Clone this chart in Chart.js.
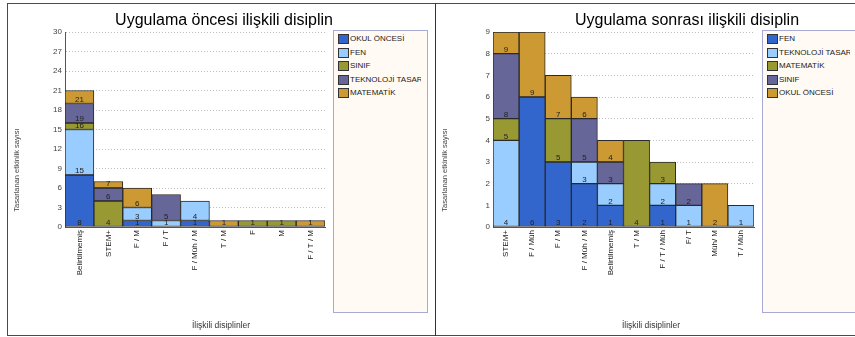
<!DOCTYPE html>
<html lang="tr">
<head>
<meta charset="utf-8">
<title>İlişkili disiplinler</title>
<script src="https://cdn.jsdelivr.net/npm/chart.js@4.4.1/dist/chart.umd.min.js"></script>
<style>
  html, body { margin: 0; padding: 0; background: #fff; }
  body { width: 855px; height: 337px; position: relative; overflow: hidden;
         font-family: "Liberation Sans", Arial, sans-serif; }
  .frame { position: absolute; left: 7px; top: 3px; width: 849px; height: 331px;
           border-left: 1px solid #4a4a4a; border-top: 1px solid #4a4a4a; border-bottom: 1px solid #4a4a4a; }
  .divider { position: absolute; left: 435px; top: 3px; width: 1px; height: 333px; background: #333; }
  .panel { position: absolute; top: 4px; }
  .legend { position: absolute; top: 30px; height: 283px; background: #fffaf4;
            border: 1px solid #a9a9d6; box-sizing: border-box; }
  .legend .item { position: absolute; left: 4px; height: 10px; display: flex; align-items: center; }
  .legend .sw { width: 9px; height: 8px; border: 1px solid #333; margin-right: 1px; flex: none; }
  .legend .tx { font-size: 8px; color: #222; white-space: nowrap; overflow: hidden; width: 71px; line-height: 10px; }
</style>
</head>
<body>
<div class="frame"></div>
<div class="divider"></div>
<div class="panel" style="left:8px"><canvas id="chartBefore" width="427" height="331"></canvas></div>
<div class="panel" style="left:436px"><canvas id="chartAfter" width="419" height="331"></canvas></div>
<div class="legend" id="legendBefore" style="left:333px;width:95px"></div>
<div class="legend" id="legendAfter" style="left:762px;width:100px"></div>

<script>
// ---- Uygulama öncesi ----
const beforeCategories = ['Belirtilmemiş', 'STEM+', 'F / M', 'F / T', 'F / Müh / M', 'T / M', 'F', 'M', 'F / T / M'];
const beforeOkulOncesi = [8, 0, 1, 0, 1, 0, 0, 0, 0];
const beforeFen        = [7, 0, 2, 1, 3, 0, 0, 0, 0];
const beforeSinif      = [1, 4, 0, 0, 0, 0, 1, 1, 0];
const beforeTeknoloji  = [3, 2, 0, 4, 0, 0, 0, 0, 0];
const beforeMatematik  = [2, 1, 3, 0, 0, 1, 0, 0, 1];
const beforeYTicks = { min: 0, max: 30, step: 3 };

// ---- Uygulama sonrası ----
const afterCategories = ['STEM+', 'F / Müh', 'F / M', 'F / Müh / M', 'Belirtilmemiş', 'T / M', 'F / T / Müh', 'F/ T', 'Müh/ M', 'T / Müh'];
const afterFen        = [0, 6, 3, 2, 1, 0, 1, 0, 0, 0];
const afterTeknoloji  = [4, 0, 0, 1, 1, 0, 1, 1, 0, 1];
const afterMatematik  = [1, 0, 2, 0, 0, 4, 1, 0, 0, 0];
const afterSinif      = [3, 0, 0, 2, 1, 0, 0, 1, 0, 0];
const afterOkulOncesi = [1, 3, 2, 1, 1, 0, 0, 0, 2, 0];
const afterYTicks = { min: 0, max: 9, step: 1 };

const FONT = '"Liberation Sans", Arial, sans-serif';
const COLORS = { darkBlue: '#3366cc', lightBlue: '#99ccff', olive: '#999933', purple: '#666699', orange: '#cc9933' };

Chart.defaults.font.family = FONT;

const beforeSeries = [
  { label: 'OKUL ÖNCESİ',         data: beforeOkulOncesi, color: COLORS.darkBlue },
  { label: 'FEN',                 data: beforeFen,        color: COLORS.lightBlue },
  { label: 'SINIF',               data: beforeSinif,      color: COLORS.olive },
  { label: 'TEKNOLOJİ TASARIMI',  data: beforeTeknoloji,  color: COLORS.purple },
  { label: 'MATEMATİK',           data: beforeMatematik,  color: COLORS.orange }
];
const afterSeries = [
  { label: 'FEN',                 data: afterFen,        color: COLORS.darkBlue },
  { label: 'TEKNOLOJİ TASARIMI',  data: afterTeknoloji,  color: COLORS.lightBlue },
  { label: 'MATEMATİK',           data: afterMatematik,  color: COLORS.olive },
  { label: 'SINIF',               data: afterSinif,      color: COLORS.purple },
  { label: 'OKUL ÖNCESİ',         data: afterOkulOncesi, color: COLORS.orange }
];

// Running stack total written just above the bottom edge of each segment
const stackTotals = {
  id: 'stackTotals',
  afterDatasetsDraw(chart) {
    const ctx = chart.ctx;
    const sets = chart.data.datasets;
    ctx.save();
    ctx.font = '8px ' + FONT;
    ctx.fillStyle = '#222';
    ctx.textAlign = 'center';
    ctx.textBaseline = 'middle';
    sets.forEach((ds, i) => {
      chart.getDatasetMeta(i).data.forEach((bar, j) => {
        if (!ds.data[j]) return;
        let total = 0;
        for (let k = 0; k <= i; k++) total += sets[k].data[j] || 0;
        ctx.fillText(String(total), bar.x, bar.base - 4);
      });
    });
    ctx.restore();
  }
};

// Chart title and axis titles at fixed spots on the panel
function panelText(title, titleX, yTitle, xTitle, xTitleX) {
  return {
    id: 'panelText',
    afterDraw(chart) {
      const ctx = chart.ctx;
      ctx.save();
      ctx.textAlign = 'center';
      ctx.textBaseline = 'middle';
      ctx.fillStyle = '#000';
      ctx.font = '16px ' + FONT;
      ctx.fillText(title, titleX, 16.5);
      ctx.fillStyle = '#333';
      ctx.font = '8.5px ' + FONT;
      ctx.fillText(xTitle, xTitleX, 322);
      ctx.fillStyle = '#444';
      ctx.font = '7.5px ' + FONT;
      ctx.translate(9, 166);
      ctx.rotate(-Math.PI / 2);
      ctx.fillText(yTitle, 0, 0);
      ctx.restore();
    }
  };
}

function buildChart(canvasId, categories, series, yTicks, rightPad, textPlugin) {
  return new Chart(document.getElementById(canvasId), {
    type: 'bar',
    data: {
      labels: categories,
      datasets: series.map(s => ({
        label: s.label,
        data: s.data,
        backgroundColor: s.color,
        borderColor: '#2a2a2a',
        borderWidth: 1,
        borderSkipped: false,
        barPercentage: 1,
        categoryPercentage: 1
      }))
    },
    options: {
      responsive: false,
      animation: false,
      devicePixelRatio: 1,
      layout: { padding: { top: 28, right: rightPad, left: 0, bottom: 0 } },
      plugins: { legend: { display: false }, title: { display: false }, tooltip: { enabled: false } },
      scales: {
        x: {
          stacked: true,
          grid: { display: false, drawTicks: false },
          border: { display: true, color: '#555' },
          ticks: { minRotation: 90, maxRotation: 90, autoSkip: false, padding: 3, color: '#1a1a1a', font: { size: 8 } },
          afterFit(scale) { scale.height = 108; }
        },
        y: {
          stacked: true,
          min: yTicks.min,
          max: yTicks.max,
          ticks: { stepSize: yTicks.step, padding: 3, color: '#444', font: { size: 8 } },
          grid: { color: '#bdbdbd', drawTicks: false },
          border: { display: true, color: '#555', dash: [1, 2] },
          afterFit(scale) { scale.width = 57; }
        }
      }
    },
    plugins: [stackTotals, textPlugin]
  });
}

function buildLegend(id, series) {
  const box = document.getElementById(id);
  series.forEach((s, i) => {
    const item = document.createElement('div');
    item.className = 'item';
    item.style.top = (3 + i * 13.5) + 'px';
    const sw = document.createElement('span');
    sw.className = 'sw';
    sw.style.background = s.color;
    const tx = document.createElement('span');
    tx.className = 'tx';
    tx.textContent = s.label;
    item.appendChild(sw);
    item.appendChild(tx);
    box.appendChild(item);
  });
}

buildChart('chartBefore', beforeCategories, beforeSeries, beforeYTicks, 110,
  panelText('Uygulama öncesi ilişkili disiplin', 216, 'Tasarlanan etkinlik sayısı', 'İlişkili disiplinler', 213));
buildChart('chartAfter', afterCategories, afterSeries, afterYTicks, 101,
  panelText('Uygulama sonrası ilişkili disiplin', 251, 'Tasarlanan etkinlik sayısı', 'İlişkili disiplinler', 215));

buildLegend('legendBefore', beforeSeries);
buildLegend('legendAfter', afterSeries);
</script>
</body>
</html>
